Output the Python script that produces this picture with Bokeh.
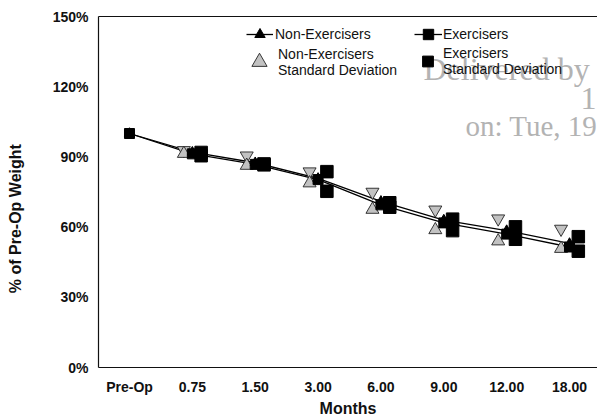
from bokeh.plotting import figure
from bokeh.models import (Range1d, FixedTicker, LinearAxis, Legend, LegendItem, Label,
                          ColumnDataSource, PrintfTickFormatter)
from bokeh.transform import dodge
from bokeh.embed import file_html
from bokeh.resources import INLINE

# ---- data ----
months = ["Pre-Op", "0.75", "1.50", "3.00", "6.00", "9.00", "12.00", "18.00"]
nonex_mean = [100, 92.0, 87.5, 80.8, 71.0, 63.0, 58.5, 53.0]
ex_mean = [100, 91.3, 86.8, 80.3, 69.5, 61.8, 57.0, 51.5]
sd_months = months[1:]
nonex_sd_upper = [92.8, 90.5, 83.7, 75.0, 67.4, 63.6, 59.2]
nonex_sd_lower = [91.4, 86.3, 78.8, 67.5, 58.8, 54.0, 50.8]
ex_sd_upper = [91.9, 87.0, 83.7, 70.4, 63.4, 60.1, 55.9]
ex_sd_lower = [90.5, 86.6, 75.3, 68.5, 58.5, 54.8, 49.7]
y_ticks = [0, 30, 60, 90, 120, 150]

FONT = "Liberation Sans"

pos = list(range(len(months)))
sd_pos = [months.index(m) for m in sd_months]

src_mean = ColumnDataSource(dict(x=pos, nonex=nonex_mean, ex=ex_mean))
src_sd = ColumnDataSource(dict(x=sd_pos, nu=nonex_sd_upper, nl=nonex_sd_lower,
                               eu=ex_sd_upper, el=ex_sd_lower))

p = figure(width=597, height=419, output_backend="svg", toolbar_location=None,
           x_range=Range1d(-0.493, 7.445), y_range=Range1d(0, 150),
           min_border_left=98, min_border_right=0, min_border_top=16, min_border_bottom=48)
p.outline_line_color = None
p.xgrid.grid_line_color = None
p.ygrid.grid_line_color = None
p.background_fill_color = "white"
p.border_fill_color = "white"

# axes
p.xaxis.ticker = FixedTicker(ticks=pos)
p.xaxis.major_label_overrides = {i: m for i, m in zip(pos, months)}
p.yaxis.ticker = FixedTicker(ticks=y_ticks)
p.yaxis.formatter = PrintfTickFormatter(format="%d%%")
for ax in (p.xaxis[0], p.yaxis[0]):
    ax.axis_line_color = "#111111"
    ax.axis_line_width = 1.2
    ax.major_tick_line_color = None
    ax.minor_tick_line_color = None
    ax.major_tick_out = 0
    ax.major_tick_in = 0
    ax.minor_tick_out = 0
    ax.major_label_text_font = FONT
    ax.major_label_text_font_style = "bold"
    ax.major_label_text_font_size = "14px"
    ax.major_label_text_color = "#111111"
    ax.axis_label_text_font = FONT
    ax.axis_label_text_font_style = "bold"
    ax.axis_label_text_font_size = "16px"
    ax.axis_label_text_color = "#111111"
p.yaxis.major_label_standoff = 10
p.xaxis.major_label_standoff = 11
p.xaxis.axis_label = "Months"
p.xaxis.axis_label_standoff = 2
# trailing no-break spaces shift the visible title down, as in the reference
p.yaxis.axis_label = "% of Pre-Op Weight" + "\u00a0" * 12
p.yaxis.axis_label_standoff = 26

top = LinearAxis(ticker=FixedTicker(ticks=[]), axis_line_color="#111111", axis_line_width=1.2,
                 major_tick_line_color=None, minor_tick_line_color=None,
                 major_tick_out=0, major_tick_in=0, minor_tick_out=0,
                 major_label_text_font_size="0px")
p.add_layout(top, "above")

# series
l_nonex = p.line("x", "nonex", source=src_mean, line_color="black", line_width=1.3)
l_ex = p.line("x", "ex", source=src_mean, line_color="black", line_width=1.3)

nu = p.scatter(dodge("x", -0.135), "nu", source=src_sd, marker="inverted_triangle", size=13,
               fill_color="#c2c2c2", line_color="#222222", line_width=0.9)
nl = p.scatter(dodge("x", -0.135), "nl", source=src_sd, marker="triangle", size=13,
               fill_color="#c2c2c2", line_color="#222222", line_width=0.9)
t_nonex = p.scatter("x", "nonex", source=src_mean, marker="triangle", size=10,
                    fill_color="black", line_color="black")
s_ex = p.scatter("x", "ex", source=src_mean, marker="square", size=10,
                 fill_color="black", line_color="black")
eu = p.scatter(dodge("x", 0.14), "eu", source=src_sd, marker="square", size=12.5,
               fill_color="black", line_color="black")
el = p.scatter(dodge("x", 0.14), "el", source=src_sd, marker="square", size=12.5,
               fill_color="black", line_color="black")

# watermark (as in the reference scan)
for t, x, y, fs in [("Delivered by", 325, 299, "32px"), ("1", 482, 269, "32px"),
                    ("on: Tue, 19", 367, 242, "29px")]:
    p.add_layout(Label(x=x, y=y, x_units="screen", y_units="screen", text=t,
                       text_font="Liberation Serif", text_font_size=fs,
                       text_color="#b3b3b3", text_baseline="alphabetic"))

# legends
def make_legend(label, renderers, loc, gw, gh, standoff):
    lg = Legend(items=[LegendItem(label=label, renderers=renderers)], location=loc,
                glyph_width=gw, glyph_height=gh, label_standoff=standoff,
                padding=0, margin=0, spacing=0, border_line_color=None,
                background_fill_alpha=0, label_text_font=FONT, label_text_font_size="14px",
                label_text_color="#111111", label_text_line_height=1.05, label_height=10)
    p.add_layout(lg, "center")

make_legend("Non-Exercisers", [l_nonex, t_nonex], (148, 320), 27, 26, 2)
make_legend("Exercisers", [l_ex, s_ex], (316, 320), 28, 26, 1)
make_legend("Non-Exercisers\nStandard Deviation", [nl], (142, 283), 38, 45, 0)
make_legend("Exercisers\nStandard Deviation", [el], (316, 289), 27, 34, 2)

open("out.html", "w").write(file_html(p, INLINE))
